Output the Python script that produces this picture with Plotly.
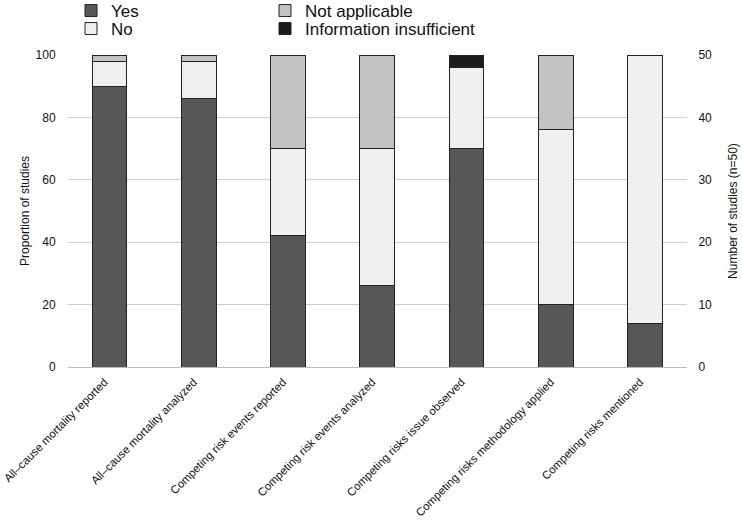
import plotly.graph_objects as go

categories = [
    "All\u2013cause mortality reported",
    "All\u2013cause mortality analyzed",
    "Competing risk events reported",
    "Competing risk events analyzed",
    "Competing risks issue observed",
    "Competing risks methodology applied",
    "Competing risks mentioned",
]
yes_vals = [90, 86, 42, 26, 70, 20, 14]
no_vals = [8, 12, 28, 44, 26, 56, 86]
na_vals = [2, 2, 30, 30, 0, 24, 0]
info_vals = [0, 0, 0, 0, 4, 0, 0]

left_ticks = [0, 20, 40, 60, 80, 100]
right_ticks = [0, 10, 20, 30, 40, 50]

FONT = "Liberation Sans, Arial, Helvetica, sans-serif"
line = dict(color="#222222", width=1)

TOP_SHIFT = 7  # page is shifted up by this many px so the legend sits near the top
W, H = 742, 520 + TOP_SHIFT

fig = go.Figure()
series = [
    ("Yes", yes_vals, "#575757", "legend"),
    ("No", no_vals, "#efefef", "legend3"),
    ("Not applicable", na_vals, "#c2c2c2", "legend2"),
    ("Information insufficient", info_vals, "#1c1c1c", "legend4"),
]
for name, vals, color, lg in series:
    fig.add_trace(go.Bar(
        x=categories, y=vals, name=name, width=0.39,
        marker=dict(color=color, line=line), legend=lg,
    ))

# invisible trace to anchor the right axis
fig.add_trace(go.Scatter(x=categories, y=[v / 2 for v in yes_vals], yaxis="y2",
                         mode="markers", marker=dict(opacity=0), showlegend=False,
                         hoverinfo="skip"))

legend_common = dict(
    orientation="h", xref="container", yref="container",
    font=dict(family=FONT, size=17, color="#111111"),
    bgcolor="rgba(0,0,0,0)", itemwidth=30,
    xanchor="left", yanchor="top",
)
col1, col2 = 71 / W, 265 / W
row1, row2 = 1.0, 1 - 18 / H

fig.update_layout(
    width=W, height=H,
    margin=dict(l=68, r=55, t=55 + TOP_SHIFT, b=153, autoexpand=False),
    paper_bgcolor="white", plot_bgcolor="white",
    barmode="stack",
    font=dict(family=FONT, size=12, color="#111111"),
    legend=dict(legend_common, x=col1, y=row1),
    legend2=dict(legend_common, x=col2, y=row1),
    legend3=dict(legend_common, x=col1, y=row2),
    legend4=dict(legend_common, x=col2, y=row2),
    xaxis=dict(
        tickangle=-45, showline=True, linecolor="#bbbbbb", linewidth=1,
        showgrid=False, ticks="", ticklabelstandoff=3, ticklabelshift=-5,
        tickfont=dict(size=11.4, family=FONT),
        range=[-0.465, 6.47], automargin=False,
    ),
    yaxis=dict(
        range=[0, 100], tickvals=left_ticks, showgrid=True, gridcolor="#cccccc",
        gridwidth=1, zeroline=False, ticks="outside", ticklen=9,
        tickcolor="rgba(0,0,0,0)", automargin=False,
        title=dict(text="Proportion of studies", font=dict(size=12), standoff=3),
        tickfont=dict(size=12),
    ),
    yaxis2=dict(
        overlaying="y", side="right", range=[0, 50], tickvals=right_ticks,
        showgrid=False, zeroline=False, ticks="outside", ticklen=8,
        tickcolor="rgba(0,0,0,0)", automargin=False,
        title=dict(text="Number of studies (n=50)", font=dict(size=12), standoff=17),
        tickfont=dict(size=12),
    ),
)

fig.write_html(
    "out.html",
    config={"displayModeBar": False},
    post_script="document.body.style.margin='0';document.body.style.marginTop='-%dpx';" % TOP_SHIFT,
)
